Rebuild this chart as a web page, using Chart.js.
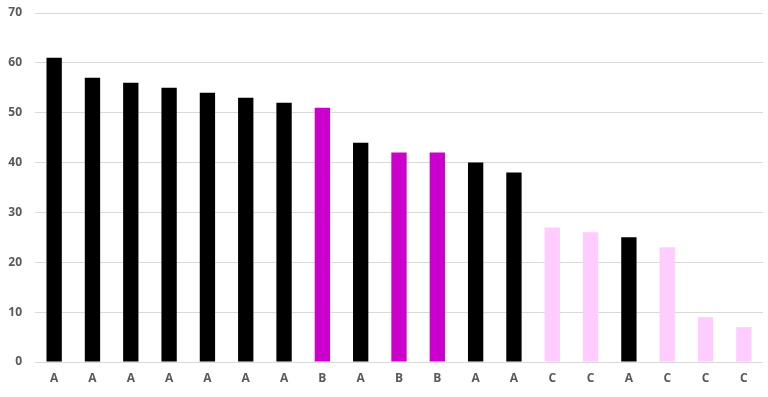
<!DOCTYPE html>
<html>
<head>
<script src="https://cdn.jsdelivr.net/npm/chart.js"></script>
<style>
  html, body { margin: 0; padding: 0; background: #fff; }
</style>
</head>
<body>
<canvas id="myChart" width="768" height="397"></canvas>
<script>
const categories = ['A', 'A', 'A', 'A', 'A', 'A', 'A', 'B', 'A', 'B', 'B', 'A', 'A', 'C', 'C', 'A', 'C', 'C', 'C'];
const values = [61, 57, 56, 55, 54, 53, 52, 51, 44, 42, 42, 40, 38, 27, 26, 25, 23, 9, 7];
const groupColors = { A: '#000000', B: '#CC00CC', C: '#FFCCFF' };

new Chart(document.getElementById('myChart'), {
  type: 'bar',
  data: {
    labels: categories,
    datasets: [{
      data: values,
      backgroundColor: categories.map(c => groupColors[c]),
      barPercentage: 0.4,
      categoryPercentage: 1
    }]
  },
  options: {
    responsive: false,
    animation: false,
    layout: { padding: { top: 13, right: 5, left: 0, bottom: 0 } },
    plugins: { legend: { display: false }, tooltip: { enabled: false } },
    scales: {
      x: {
        grid: { display: false, drawTicks: false },
        border: { display: false },
        ticks: { color: '#595959', font: { family: 'Open Sans', size: 12, weight: 'bold' }, padding: 9 },
        afterFit: s => { s.height = 35; }
      },
      y: {
        min: 0, max: 70,
        ticks: { stepSize: 10, color: '#595959', font: { family: 'Open Sans', size: 12, weight: 'bold' }, padding: 13 },
        grid: { color: '#D9D9D9', drawTicks: false },
        border: { display: false },
        afterFit: s => { s.width = 35; s.paddingTop = 0; s.paddingBottom = 0; }
      }
    }
  }
});
</script>
</body>
</html>
